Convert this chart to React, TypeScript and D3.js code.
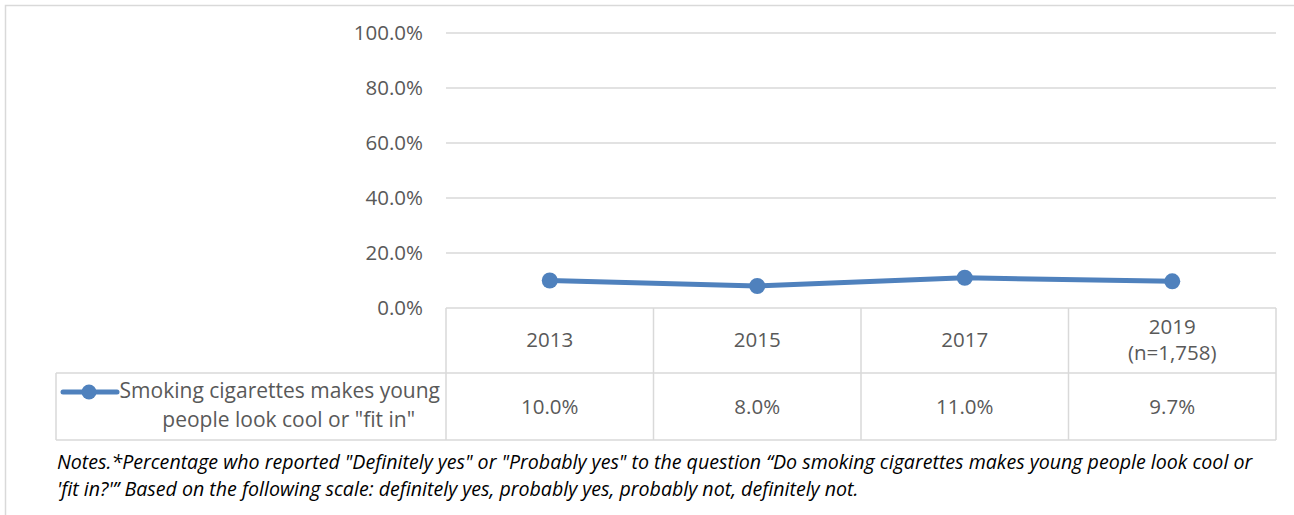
import React from "react";
import * as d3 from "d3";

const years = ["2013", "2015", "2017", "2019"];
const yearSub = ["", "", "", "(n=1,758)"];
const values = [10.0, 8.0, 11.0, 9.7];
const yTicks = [0, 20, 40, 60, 80, 100];
const seriesName = ["Smoking cigarettes makes young", "people look cool or \"fit in\""];
const notes = [
  "Notes.*Percentage who reported \"Definitely yes\" or \"Probably yes\" to the question \u201cDo smoking cigarettes makes young people look cool or",
  "'fit in?'\u201d Based on the following scale: definitely yes, probably yes, probably not, definitely not.",
];

export default function App() {
  const W = 1294, H = 515;
  const left = 446, right = 1276, top = 33, bottom = 308;
  const x = d3.scaleBand<string>().domain(years).range([left, right]);
  const y = d3.scaleLinear().domain([0, 100]).range([bottom, top]);
  const line = d3
    .line<number>()
    .x((_, i) => x(years[i])! + x.bandwidth() / 2)
    .y((d) => y(d));
  const row1 = 373, row2 = 440, legLeft = 56;
  const grid = "#d9d9d9";
  const txt = "#595959";
  const color = "#4f81bd";
  const font = "'Open Sans', sans-serif";
  const fs = 20.5;
  return (
    <svg width={W} height={H} style={{ position: "absolute", left: 0, top: 0 }} fontFamily={font}>
      <rect x={0} y={0} width={W} height={H} fill="#fff" />
      <path d={`M5.5,${H} V5.5 H${W}`} fill="none" stroke={grid} strokeWidth={1.5} />
      {yTicks.map((t) => (
        <g key={t}>
          {t > 0 && <line x1={left} x2={right} y1={y(t)} y2={y(t)} stroke={grid} strokeWidth={1.5} />}
          <text x={423} y={y(t)} dy="0.35em" textAnchor="end" fontSize={fs} fill={txt}>
            {t.toFixed(1)}%
          </text>
        </g>
      ))}
      {/* table */}
      <g stroke={grid} strokeWidth={1.5} fill="none">
        <line x1={left} x2={right} y1={bottom} y2={bottom} />
        <line x1={legLeft} x2={right} y1={row1} y2={row1} />
        <line x1={legLeft} x2={right} y1={row2} y2={row2} />
        <line x1={legLeft} x2={legLeft} y1={row1} y2={row2} />
        {[...years.map((yr) => x(yr)!), right].map((xx, i) => (
          <line key={i} x1={xx} x2={xx} y1={bottom} y2={row2} />
        ))}
      </g>
      {years.map((yr, i) => {
        const cx = x(yr)! + x.bandwidth() / 2;
        return (
          <g key={yr} fontSize={fs} fill={txt} textAnchor="middle">
            {yearSub[i] ? (
              <>
                <text x={cx} y={327} dy="0.35em">{yr}</text>
                <text x={cx} y={353} dy="0.35em">{yearSub[i]}</text>
              </>
            ) : (
              <text x={cx} y={340} dy="0.35em">{yr}</text>
            )}
            <text x={cx} y={407} dy="0.35em">{values[i].toFixed(1)}%</text>
          </g>
        );
      })}
      {/* legend */}
      <line x1={63} x2={117} y1={392} y2={392} stroke={color} strokeWidth={5} strokeLinecap="round" />
      <circle cx={89} cy={392} r={7.5} fill={color} />
      <text x={440} y={391} dy="0.35em" textAnchor="end" fontSize={21} fill={txt}>{seriesName[0]}</text>
      <text x={415} y={420} dy="0.35em" textAnchor="end" fontSize={21} fill={txt}>{seriesName[1]}</text>
      {/* series */}
      <path d={line(values)!} fill="none" stroke={color} strokeWidth={5} strokeLinejoin="round" />
      {values.map((v, i) => (
        <circle key={i} cx={x(years[i])! + x.bandwidth() / 2} cy={y(v)} r={8} fill={color} />
      ))}
      {/* notes */}
      {notes.map((n, i) => (
        <text key={i} x={57} y={469 + i * 27} fontSize={19.6} fontStyle="italic" fill="#000">{n}</text>
      ))}
    </svg>
  );
}
